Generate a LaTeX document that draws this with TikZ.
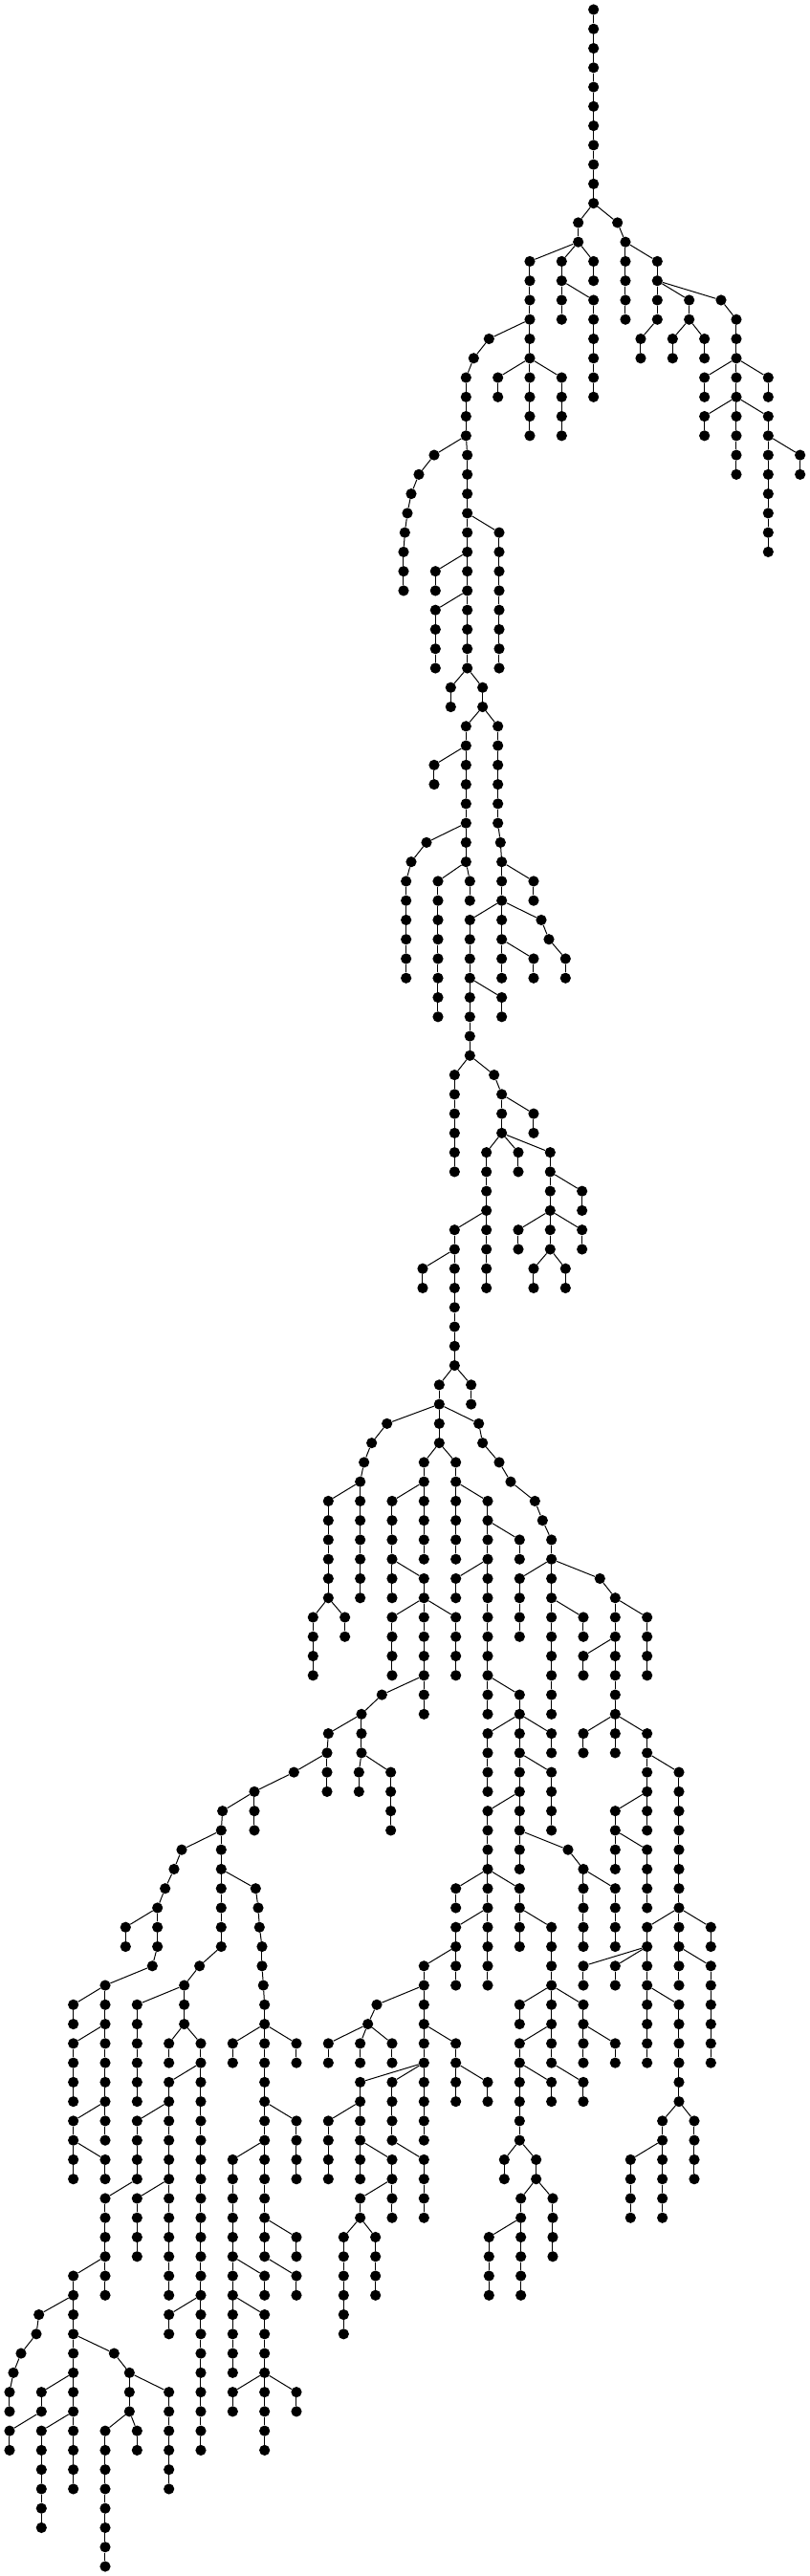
\documentclass[tikz,border=0pt]{standalone}
\tikzset{treedot/.style={circle,fill=black,draw=none,inner sep=0pt,minimum size=11.2pt},
treeedge/.style={draw=black,line width=1pt}}
\newcommand\nodeat[2]{\node[treedot] (v#1-#2) at (#1,{-10-20.265*#2}) {};}
% parent x, parent row, x, first row, last row
\newcommand\tchain[5]{%
  \nodeat{#3}{#4}%
  \draw[treeedge] (v#1-#2) -- (v#3-#4);%
  \ifnum#5>#4\relax
  \foreach \q [remember=\q as \p (initially #4)] in {#4,...,#5}{%
    \ifnum\q>#4\relax
      \nodeat{#3}{\q}%
      \draw[treeedge] (v#3-\p) -- (v#3-\q);%
    \fi}%
  \fi}
\begin{document}
\begin{tikzpicture}[x=0.333333pt,y=1pt]
\useasboundingbox (0,0) rectangle (2541,-2695);
\nodeat{1862}{0}
\tchain{1862}{0}{1862}{1}{10}
\tchain{1862}{10}{1814}{11}{12}
\tchain{1862}{10}{1937}{11}{11}
\tchain{1937}{11}{1962}{12}{16}
\tchain{1814}{12}{1662}{13}{18}
\tchain{1814}{12}{1762}{13}{14}
\tchain{1814}{12}{1862}{13}{14}
\tchain{1762}{14}{1762}{15}{16}
\tchain{1762}{14}{1862}{15}{20}
\tchain{1662}{16}{1534}{17}{17}
\tchain{1534}{17}{1486}{18}{18}
\tchain{1662}{18}{1562}{19}{20}
\tchain{1662}{18}{1662}{19}{22}
\tchain{1662}{18}{1762}{19}{22}
\tchain{1486}{18}{1462}{19}{22}
\tchain{1462}{22}{1362}{23}{23}
\tchain{1362}{23}{1314}{24}{24}
\tchain{1314}{24}{1290}{25}{25}
\tchain{1290}{25}{1278}{26}{26}
\tchain{1278}{26}{1270}{27}{27}
\tchain{1270}{27}{1266}{28}{30}
\tchain{1462}{22}{1466}{23}{34}
\tchain{1466}{26}{1566}{27}{34}
\tchain{1466}{28}{1366}{29}{30}
\tchain{1466}{30}{1366}{31}{34}
\tchain{1466}{34}{1414}{35}{36}
\tchain{1466}{34}{1514}{35}{36}
\tchain{1514}{36}{1462}{37}{44}
\tchain{1514}{36}{1562}{37}{42}
\tchain{1562}{42}{1570}{43}{43}
\tchain{1570}{43}{1574}{44}{50}
\tchain{1574}{44}{1674}{45}{46}
\tchain{1574}{46}{1698}{47}{47}
\tchain{1698}{47}{1722}{48}{48}
\tchain{1722}{48}{1774}{49}{50}
\tchain{1574}{48}{1674}{49}{50}
\tchain{1574}{46}{1474}{47}{54}
\tchain{1474}{50}{1574}{51}{52}
\tchain{1462}{38}{1362}{39}{40}
\tchain{1462}{42}{1338}{43}{43}
\tchain{1338}{43}{1290}{44}{44}
\tchain{1290}{44}{1274}{45}{50}
\tchain{1462}{44}{1374}{45}{52}
\tchain{1462}{44}{1474}{45}{46}
\tchain{1474}{54}{1426}{55}{60}
\tchain{1474}{54}{1550}{55}{55}
\tchain{1550}{55}{1574}{56}{58}
\tchain{1574}{56}{1674}{57}{58}
\tchain{1574}{58}{1626}{59}{60}
\tchain{1574}{58}{1726}{59}{64}
\tchain{1726}{60}{1826}{61}{62}
\tchain{1726}{62}{1626}{63}{64}
\tchain{1726}{62}{1826}{63}{64}
\tchain{1726}{64}{1674}{65}{66}
\tchain{1726}{64}{1774}{65}{66}
\tchain{1574}{58}{1526}{59}{66}
\tchain{1526}{62}{1426}{63}{70}
\tchain{1426}{64}{1326}{65}{66}
\tchain{1426}{70}{1378}{71}{72}
\tchain{1426}{70}{1478}{71}{72}
\tchain{1378}{72}{1214}{73}{73}
\tchain{1214}{73}{1166}{74}{74}
\tchain{1166}{74}{1142}{75}{75}
\tchain{1142}{75}{1130}{76}{82}
\tchain{1130}{76}{1030}{77}{82}
\tchain{1030}{82}{982}{83}{86}
\tchain{1030}{82}{1082}{83}{84}
\tchain{1378}{72}{1378}{73}{74}
\tchain{1378}{74}{1330}{75}{80}
\tchain{1330}{76}{1230}{77}{82}
\tchain{1230}{80}{1330}{81}{88}
\tchain{1330}{82}{1230}{83}{86}
\tchain{1330}{82}{1430}{83}{86}
\tchain{1378}{74}{1430}{75}{80}
\tchain{1430}{76}{1530}{77}{88}
\tchain{1530}{78}{1630}{79}{80}
\tchain{1530}{80}{1430}{81}{82}
\tchain{1530}{86}{1630}{87}{96}
\tchain{1630}{88}{1530}{89}{92}
\tchain{1630}{88}{1730}{89}{90}
\tchain{1630}{90}{1730}{91}{94}
\tchain{1630}{92}{1530}{93}{102}
\tchain{1530}{96}{1430}{97}{98}
\tchain{1530}{96}{1630}{97}{100}
\tchain{1530}{98}{1430}{99}{102}
\tchain{1430}{100}{1330}{101}{110}
\tchain{1630}{98}{1730}{99}{106}
\tchain{1630}{94}{1782}{95}{95}
\tchain{1782}{95}{1830}{96}{100}
\tchain{1830}{96}{1930}{97}{100}
\tchain{1378}{72}{1502}{73}{73}
\tchain{1502}{73}{1514}{74}{74}
\tchain{1514}{74}{1566}{75}{75}
\tchain{1566}{75}{1602}{76}{76}
\tchain{1602}{76}{1678}{77}{77}
\tchain{1678}{77}{1702}{78}{78}
\tchain{1702}{78}{1730}{79}{88}
\tchain{1730}{80}{1630}{81}{84}
\tchain{1730}{80}{1882}{81}{81}
\tchain{1730}{82}{1830}{83}{84}
\tchain{1882}{81}{1930}{82}{90}
\tchain{1930}{82}{2030}{83}{86}
\tchain{1930}{84}{1830}{85}{86}
\tchain{1930}{88}{1830}{89}{90}
\tchain{1930}{88}{2030}{89}{94}
\tchain{2030}{90}{2130}{91}{98}
\tchain{2030}{92}{1930}{93}{96}
\tchain{1930}{94}{2030}{95}{98}
\tchain{2130}{98}{2030}{99}{106}
\tchain{2130}{98}{2130}{99}{102}
\tchain{2130}{98}{2230}{99}{100}
\tchain{2130}{100}{2230}{101}{106}
\tchain{2030}{100}{1830}{101}{102}
\tchain{2030}{100}{1930}{101}{102}
\tchain{2030}{102}{2130}{103}{108}
\tchain{2130}{108}{2178}{109}{112}
\tchain{2130}{108}{2078}{109}{114}
\tchain{2078}{110}{1978}{111}{114}
\tchain{1730}{102}{1630}{103}{104}
\tchain{1730}{102}{1830}{103}{106}
\tchain{1830}{104}{1930}{105}{106}
\tchain{1730}{104}{1630}{105}{110}
\tchain{1630}{106}{1730}{107}{108}
\tchain{1730}{106}{1830}{107}{108}
\tchain{1630}{110}{1582}{111}{112}
\tchain{1630}{110}{1682}{111}{112}
\tchain{1682}{112}{1734}{113}{116}
\tchain{1682}{112}{1634}{113}{118}
\tchain{1634}{114}{1534}{115}{118}
\tchain{1330}{102}{1182}{103}{103}
\tchain{1182}{103}{1154}{104}{104}
\tchain{1154}{104}{1030}{105}{106}
\tchain{1154}{104}{1130}{105}{106}
\tchain{1154}{104}{1230}{105}{106}
\tchain{1330}{104}{1430}{105}{108}
\tchain{1430}{106}{1530}{107}{108}
\tchain{1330}{106}{1230}{107}{110}
\tchain{1330}{106}{1130}{107}{112}
\tchain{1130}{108}{1030}{109}{112}
\tchain{1130}{110}{1230}{111}{114}
\tchain{1230}{112}{1130}{113}{114}
\tchain{1230}{110}{1330}{111}{114}
\tchain{1130}{114}{1078}{115}{120}
\tchain{1130}{114}{1178}{115}{118}
\tchain{1330}{86}{1198}{87}{87}
\tchain{1198}{87}{1134}{88}{90}
\tchain{1134}{88}{1030}{89}{89}
\tchain{1030}{89}{1026}{90}{92}
\tchain{1026}{90}{922}{91}{91}
\tchain{1134}{90}{1126}{91}{92}
\tchain{1134}{90}{1226}{91}{94}
\tchain{922}{91}{798}{92}{94}
\tchain{798}{92}{698}{93}{93}
\tchain{698}{93}{694}{94}{100}
\tchain{694}{94}{570}{95}{95}
\tchain{570}{95}{546}{96}{96}
\tchain{546}{96}{518}{97}{97}
\tchain{518}{97}{494}{98}{100}
\tchain{494}{98}{394}{99}{100}
\tchain{494}{100}{478}{101}{101}
\tchain{478}{101}{330}{102}{110}
\tchain{330}{102}{230}{103}{104}
\tchain{330}{104}{230}{105}{108}
\tchain{330}{108}{230}{109}{112}
\tchain{230}{110}{330}{111}{112}
\tchain{694}{96}{802}{97}{97}
\tchain{802}{97}{810}{98}{98}
\tchain{810}{98}{814}{99}{99}
\tchain{814}{99}{822}{100}{101}
\tchain{822}{101}{826}{102}{102}
\tchain{826}{102}{830}{103}{116}
\tchain{830}{104}{730}{105}{106}
\tchain{830}{104}{930}{105}{106}
\tchain{830}{108}{930}{109}{112}
\tchain{830}{110}{730}{111}{122}
\tchain{830}{114}{930}{115}{116}
\tchain{830}{116}{930}{117}{118}
\tchain{730}{116}{830}{117}{118}
\tchain{730}{118}{830}{119}{126}
\tchain{830}{122}{730}{123}{124}
\tchain{830}{122}{930}{123}{124}
\tchain{694}{100}{626}{101}{101}
\tchain{626}{101}{578}{102}{104}
\tchain{578}{102}{430}{103}{108}
\tchain{578}{104}{530}{105}{106}
\tchain{578}{104}{630}{105}{118}
\tchain{630}{106}{530}{107}{118}
\tchain{530}{108}{430}{109}{112}
\tchain{430}{112}{330}{113}{118}
\tchain{330}{116}{230}{117}{128}
\tchain{530}{112}{430}{113}{116}
\tchain{630}{118}{530}{119}{120}
\tchain{630}{118}{630}{119}{126}
\tchain{230}{118}{122}{119}{119}
\tchain{122}{119}{114}{120}{120}
\tchain{114}{120}{66}{121}{121}
\tchain{66}{121}{42}{122}{122}
\tchain{42}{122}{30}{123}{124}
\tchain{230}{120}{358}{121}{121}
\tchain{358}{121}{406}{122}{124}
\tchain{406}{122}{530}{123}{128}
\tchain{406}{124}{330}{125}{132}
\tchain{406}{124}{430}{125}{126}
\tchain{230}{122}{130}{123}{124}
\tchain{130}{124}{30}{125}{126}
\tchain{230}{124}{130}{125}{130}
\tchain{1962}{12}{2062}{13}{16}
\tchain{2062}{14}{2162}{15}{16}
\tchain{2062}{14}{2262}{15}{15}
\tchain{2062}{16}{2010}{17}{18}
\tchain{2162}{16}{2110}{17}{18}
\tchain{2162}{16}{2210}{17}{18}
\tchain{2262}{15}{2310}{16}{24}
\tchain{2310}{18}{2210}{19}{20}
\tchain{2310}{18}{2410}{19}{20}
\tchain{2310}{20}{2210}{21}{22}
\tchain{2310}{20}{2410}{21}{28}
\tchain{2410}{22}{2510}{23}{24}
\end{tikzpicture}
\end{document}
